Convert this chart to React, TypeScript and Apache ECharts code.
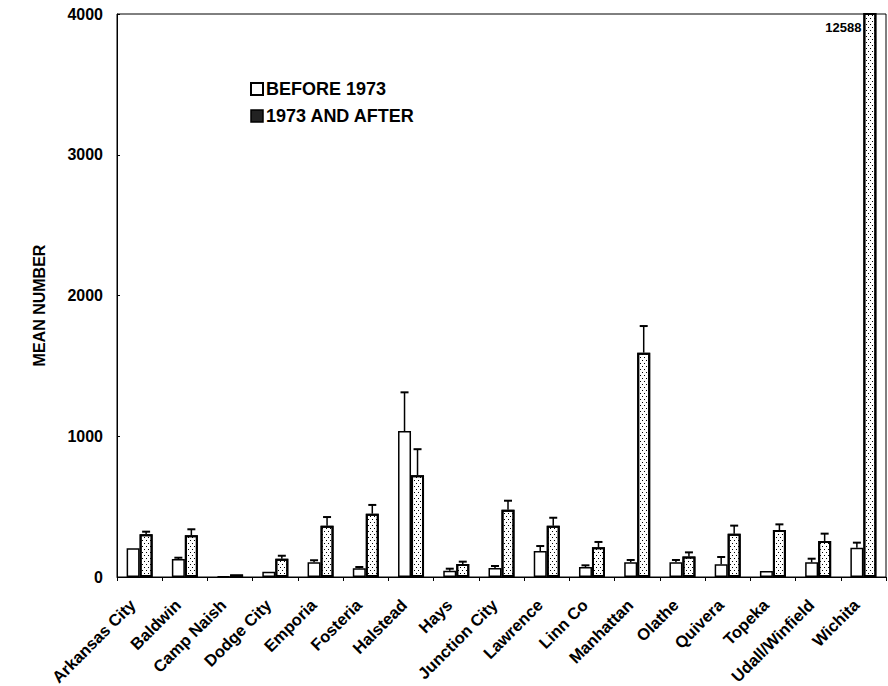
import React, { useEffect, useRef } from "react";
import * as echarts from "echarts";

const categories = [
  "Arkansas City", "Baldwin", "Camp Naish", "Dodge City", "Emporia", "Fosteria",
  "Halstead", "Hays", "Junction City", "Lawrence", "Linn Co", "Manhattan",
  "Olathe", "Quivera", "Topeka", "Udall/Winfield", "Wichita",
];
const beforeValues = [204, 128, 5, 38, 104, 62, 1037, 45, 64, 185, 71, 104, 104, 90, 43, 104, 208];
const beforeErrTop = [null, 137, null, null, 119, 71, 1312, 59, 78, 220, 83, 121, 121, 142, null, 130, 244];
const afterValues = [303, 296, 18, 130, 365, 450, 723, 92, 478, 365, 211, 1594, 145, 308, 334, 256, 12588];
const afterErrTop = [322, 339, null, 151, 426, 512, 908, 109, 542, 421, 249, 1783, 175, 365, 374, 308, null];
const yTicks = { min: 0, max: 4000, interval: 1000 };
const seriesNames = ["BEFORE 1973", "1973 AND AFTER"];

const FONT = "Arial, 'Liberation Sans', sans-serif";
const BAR_W = 13;

function errData(vals: number[], tops: (number | null)[]) {
  const out: number[][] = [];
  vals.forEach((v, i) => {
    const t = tops[i];
    if (t != null) out.push([i, v, t]);
  });
  return out;
}

function errSeries(data: number[][], offset: number) {
  return {
    type: "custom",
    silent: true,
    encode: { x: 0, y: [1, 2] },
    data,
    z: 5,
    renderItem: (_params: any, api: any) => {
      const idx = api.value(0);
      const p0 = api.coord([idx, api.value(1)]);
      const p1 = api.coord([idx, api.value(2)]);
      const x = p0[0] + offset;
      return {
        type: "group",
        children: [
          { type: "line", shape: { x1: x, y1: p0[1], x2: x, y2: p1[1] }, style: { stroke: "#000", lineWidth: 1.5 } },
          { type: "line", shape: { x1: x - 4, y1: p1[1], x2: x + 4, y2: p1[1] }, style: { stroke: "#000", lineWidth: 2 } },
        ],
      };
    },
  };
}

export default function App() {
  const ref = useRef<HTMLDivElement>(null);
  useEffect(() => {
    if (!ref.current) return;
    const chart = echarts.init(ref.current, undefined, { renderer: "svg" });
    const decal = {
      symbol: "rect",
      symbolSize: 1,
      color: "#000",
      backgroundColor: "#fff",
      dashArrayX: [[1, 3], [0, 2, 1, 1]],
      dashArrayY: [1, 2],
      rotation: 0,
    };
    chart.setOption({
      animation: false,
      backgroundColor: "#fff",
      grid: {
        left: 117, right: 2, top: 14, bottom: 109,
        outerBoundsMode: "none",
        containLabel: false,
        show: true, borderColor: "#000", borderWidth: 1,
      },
      legend: {
        orient: "vertical",
        left: 245,
        top: 75,
        itemWidth: 12,
        itemHeight: 12,
        itemGap: 9,
        icon: "rect",
        textStyle: { fontFamily: FONT, fontWeight: "bold", fontSize: 18, color: "#000", padding: [0, 0, 0, -2] },
        data: [
          { name: seriesNames[0] },
          { name: seriesNames[1], itemStyle: { color: "#222", borderColor: "#000", borderWidth: 1.5, decal: "none" } },
        ],
      },
      xAxis: {
        type: "category",
        data: categories,
        axisLine: { lineStyle: { color: "#000", width: 1 } },
        axisTick: { show: true, length: 4, lineStyle: { color: "#000" } },
        axisLabel: {
          rotate: 45,
          interval: 0,
          margin: 18,
          padding: [0, 10, 0, 0],
          fontFamily: FONT,
          fontWeight: "bold",
          fontSize: 16.5,
          color: "#000",
        },
      },
      yAxis: {
        type: "value",
        min: yTicks.min,
        max: yTicks.max,
        interval: yTicks.interval,
        name: "MEAN NUMBER",
        nameLocation: "middle",
        nameGap: 70,
        nameRotate: 90,
        nameTextStyle: { fontFamily: FONT, fontWeight: "bold", fontSize: 16, color: "#000", padding: [0, 20, 0, 0] },
        splitLine: { show: false },
        axisLine: { show: true, lineStyle: { color: "#000", width: 1 } },
        axisTick: { show: true, length: 3, inside: true, lineStyle: { color: "#000" } },
        axisLabel: {
          fontFamily: FONT,
          fontWeight: "bold",
          fontSize: 16,
          color: "#000",
          margin: 14,
          formatter: (v: number) => String(v),
        },
      },
      series: [
        {
          name: seriesNames[0],
          type: "bar",
          data: beforeValues,
          barWidth: BAR_W,
          barGap: "0%",
          itemStyle: { color: "#fff", borderColor: "#000", borderWidth: 1.5 },
        },
        {
          name: seriesNames[1],
          type: "bar",
          data: afterValues,
          barWidth: BAR_W,
          barGap: "0%",
          clip: true,
          itemStyle: { color: "#fff", borderColor: "#000", borderWidth: 2, decal },
        },
        errSeries(errData(beforeValues, beforeErrTop), -BAR_W / 2),
        errSeries(errData(afterValues, afterErrTop), BAR_W / 2),
      ],
    });
    const last = categories.length - 1;
    const pt = chart.convertToPixel({ xAxisIndex: 0, yAxisIndex: 0 }, [last, yTicks.max]) as number[];
    chart.setOption({
      graphic: [
        {
          type: "text",
          x: pt[0] - 2,
          y: pt[1] + 13,
          style: {
            text: String(afterValues[last]),
            align: "right",
            verticalAlign: "middle",
            fontFamily: FONT,
            fontWeight: "bold",
            fontSize: 13,
            fill: "#000",
          },
          z: 10,
        },
      ],
    });
    return () => chart.dispose();
  }, []);
  return <div ref={ref} style={{ position: "absolute", left: 0, top: 0, width: 888, height: 686 }} />;
}
